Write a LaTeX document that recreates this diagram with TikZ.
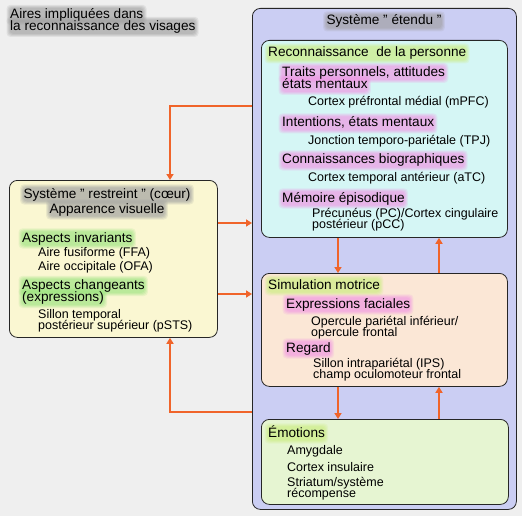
\documentclass[tikz,border=0pt]{standalone}
\usepackage{fontspec}
\setmainfont{Liberation Sans}
\usetikzlibrary{arrows.meta}
\pgfdeclarelayer{bg}
\pgfdeclarelayer{glow}
\pgfsetlayers{bg,glow,main}
\definecolor{bgc}{HTML}{EFEFEF}
\definecolor{extc}{HTML}{CBCEF3}
\definecolor{recc}{HTML}{D5F6F5}
\definecolor{simc}{HTML}{FBE7D6}
\definecolor{emoc}{HTML}{E6F5D2}
\definecolor{corec}{HTML}{FAF7D2}
\definecolor{arrc}{HTML}{F0642A}
\definecolor{glgray}{HTML}{A0A0A0}
\definecolor{glyel}{HTML}{CCEE80}
\definecolor{glpink}{HTML}{F096E4}
\definecolor{glgreen}{HTML}{9CE480}
\newlength\glen
\newsavebox\gbox
\newcommand{\hfont}{\fontsize{13.6}{12}\selectfont}
\newcommand{\bfnt}{\fontsize{12.5}{12}\selectfont}
\newcommand{\measure}[1]{%
  \pgfinterruptpicture
  \global\setbox\gbox=\hbox{\normalfont\hfont #1}%
  \global\glen=\wd\gbox
  \endpgfinterruptpicture}
% glow band: #1 left x, #2 baseline y, #3 colour, #4 text (heading font)
\newcommand{\glowat}[4]{%
  \measure{#4}\pgfmathsetmacro\gw{\glen}%
  \begin{pgfonlayer}{glow}%
  \foreach \r/\o in {3.5/0.18,2.5/0.22,1.5/0.26,0.5/0.3}{%
    \fill[#3,opacity=\o,rounded corners=4pt]
      ({#1-\r},{#2-10.2-\r}) rectangle ({#1+\gw+\r},{#2+3+\r});}%
  \end{pgfonlayer}}
% same, centred on x = #1
\newcommand{\glowc}[4]{%
  \measure{#4}\pgfmathsetmacro\gx{#1-\glen/2}%
  \glowat{\gx}{#2}{#3}{#4}}
\newcommand{\twol}[3]{\vtop{\baselineskip=#1pt\lineskiplimit=-50pt\hbox{#2}\hbox{#3}}}
\newcommand{\twolc}[3]{\vtop{\baselineskip=#1pt\lineskiplimit=-50pt\halign{\hfil##\hfil\cr#2\cr#3\cr}}}
\begin{document}
\begin{tikzpicture}[x=1pt,y=-1pt,
  box/.style={draw=black!85,line width=0.8pt,rounded corners=8pt,anchor=north west,inner sep=0pt},
  arr/.style={draw=arrc,line width=2pt,-{Triangle[width=7pt,length=6pt]}},
  body/.style={anchor=base west,inner sep=0pt,font=\bfnt},
  head/.style={anchor=base west,inner sep=0pt,font=\hfont},
  chead/.style={anchor=base,inner sep=0pt,font=\hfont}]
\begin{pgfonlayer}{bg}
\fill[bgc] (0,0) rectangle (522,516);
\end{pgfonlayer}
\useasboundingbox (0,0) rectangle (522,516);
% boxes
\begin{pgfonlayer}{bg}
\node[box,fill=extc,minimum width=264pt,minimum height=501pt] (ext) at (252,8) {};
\node[box,fill=recc,minimum width=246pt,minimum height=197pt] (rec) at (261,40) {};
\node[box,fill=simc,minimum width=246pt,minimum height=113pt] (sim) at (261,273) {};
\node[box,fill=emoc,minimum width=247pt,minimum height=85pt] (emo) at (261,419) {};
\node[box,fill=corec,minimum width=208pt,minimum height=157pt] (core) at (9,180) {};
% coordinates for connectors
\coordinate (xa) at (170,0);
\coordinate (xd) at (338,0);
\coordinate (xu) at (439,0);
\coordinate (y1) at (0,106);
\coordinate (y2) at (0,223);
\coordinate (y3) at (0,294);
\coordinate (y4) at (0,412);
% connectors
\draw[arr] (ext.west |- y1) -| (xa |- core.north);
\draw[arr] (ext.west |- y4) -| (xa |- core.south);
\draw[arr] (core.east |- y2) -- (ext.west |- y2);
\draw[arr] (core.east |- y3) -- (ext.west |- y3);
\draw[arr] (xd |- rec.south) -- (xd |- sim.north);
\draw[arr] (xu |- sim.north) -- (xu |- rec.south);
\draw[arr] (xd |- sim.south) -- (xd |- emo.north);
\draw[arr] (xu |- emo.north) -- (xu |- sim.south);
\end{pgfonlayer}
% title
\node[head] (ti) at (10,18.5) {\twol{12}{Aires impliquées dans}{la reconnaissance des visages}};
\glowat{10}{18.5}{glgray}{Aires impliquées dans}
\glowat{10}{30.5}{glgray}{la reconnaissance des visages}
\node[chead] (et) at (384,25) {Système " étendu "};
\glowc{384}{25}{glgray}{Système " étendu "}
% reconnaissance
\node[head] (r0) at (268,57) {Reconnaissance\ \ de la personne};
\glowat{268}{57}{glyel}{Reconnaissance\ \ de la personne}
\node[head] (r1) at (282,76.5) {\twol{12}{Traits personnels, attitudes}{états mentaux}};
\glowat{282}{76.5}{glpink}{Traits personnels, attitudes}
\glowat{282}{88.5}{glpink}{états mentaux}
\node[body] (r1c) at (308,106) {Cortex préfrontal médial (mPFC)};
\node[head] (r2) at (282,127) {Intentions, états mentaux};
\glowat{282}{127}{glpink}{Intentions, états mentaux}
\node[body] (r2c) at (308,145) {Jonction temporo-pariétale (TPJ)};
\node[head] (r3) at (282,164) {Connaissances biographiques};
\glowat{282}{164}{glpink}{Connaissances biographiques}
\node[body] (r3c) at (308,182) {Cortex temporal antérieur (aTC)};
\node[head] (r4) at (282,202) {Mémoire épisodique};
\glowat{282}{202}{glpink}{Mémoire épisodique}
\node[body] (r4c) at (312,217) {\twol{11}{Précunéus (PC)/Cortex cingulaire}{postérieur (pCC)}};
% simulation
\node[head] (s0) at (268,289) {Simulation motrice};
\glowat{268}{289}{glyel}{Simulation motrice}
\node[head] (s1) at (286,308) {Expressions faciales};
\glowat{286}{308}{glpink}{Expressions faciales}
\node[body] (s1c) at (311,325) {\twol{11}{Opercule pariétal inférieur/}{opercule frontal}};
\node[head] (s2) at (286,352) {Regard};
\glowat{286}{352}{glpink}{Regard}
\node[body] (s2c) at (313,367) {\twol{11}{Sillon intrapariétal (IPS)}{champ oculomoteur frontal}};
% emotions
\node[head] (e0) at (268,437) {Émotions};
\glowat{268}{437}{glyel}{Émotions}
\node[body] (e1) at (287,454) {Amygdale};
\node[body] (e2) at (287,471) {Cortex insulaire};
\node[body] (e3) at (287,486) {\twol{11}{Striatum/système}{récompense}};
% core
\node[chead] (c0) at (107,198) {\twolc{15}{Système " restreint " (cœur)}{Apparence visuelle}};
\glowc{107}{198}{glgray}{Système " restreint " (cœur)}
\glowc{107}{213}{glgray}{Apparence visuelle}
\node[head] (c2) at (22,242) {Aspects invariants};
\glowat{22}{242}{glgreen}{Aspects invariants}
\node[body] (c2a) at (38,256) {Aire fusiforme (FFA)};
\node[body] (c2b) at (38,270) {Aire occipitale (OFA)};
\node[head] (c3) at (22,289.5) {\twol{12}{Aspects changeants}{(expressions)}};
\glowat{22}{289.5}{glgreen}{Aspects changeants}
\glowat{22}{301.5}{glgreen}{(expressions)}
\node[body] (c3c) at (38,318) {\twol{11}{Sillon temporal}{postérieur supérieur (pSTS)}};
\end{tikzpicture}
\end{document}
